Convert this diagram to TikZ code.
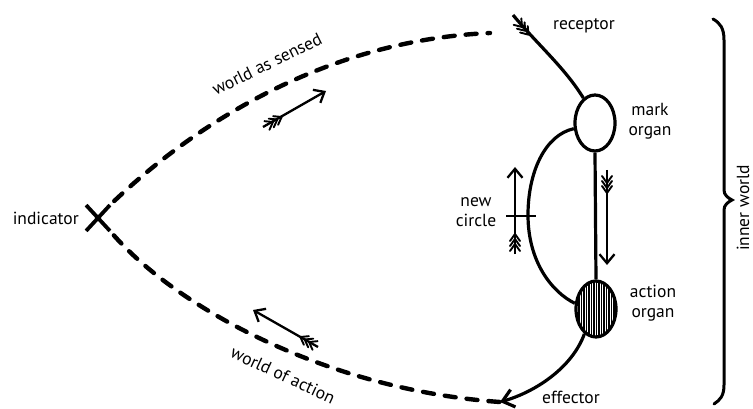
\documentclass[tikz,border=0pt]{standalone}
\usepackage{fontspec}
\setmainfont{PT Sans}
\usetikzlibrary{arrows.meta,shapes.geometric,shapes.misc}
\begin{document}
\begin{tikzpicture}[x=1pt,y=-1pt,
  organ/.style={ellipse,draw,line width=3.2pt,minimum width=40pt,minimum height=56pt,inner sep=0pt},
  lbl/.style={font=\fontsize{17.5}{19.5}\selectfont,align=center,inner sep=0pt},
  wire/.style={line width=3.2pt},
  dashw/.style={line width=4.4pt,dash pattern=on 11pt off 11pt,line cap=round},
  shaft/.style={line width=2.3pt,-{Straight Barb[length=9pt,width=15pt,line width=2.3pt]}},
  fletch/.pic={\draw[line width=1.9pt,line cap=round] (0,0) -- (-7,5) (0,0) -- (-7,-5) (5,0) -- (-2,5) (5,0) -- (-2,-5) (10,0) -- (3,5) (10,0) -- (3,-5);}
]
\useasboundingbox (0,0) rectangle (753,409);
% nodes
\node[cross out,draw,line width=3.8pt,minimum width=20pt,minimum height=22pt,inner sep=0pt] (ind) at (98,218) {};
\node[lbl,anchor=east] (indl) at (79,218) {indicator};
\node[organ] (mark) at (595,123) {};
\node[organ,path picture={\foreach \i in {-22,-19.5,...,22} \draw[line width=1.1pt] ([xshift=\i pt]path picture bounding box.north) -- ([xshift=\i pt]path picture bounding box.south);}] (action) at (596,309) {};
\coordinate (rec) at (513,15);
\coordinate (ws) at (490,33);
\coordinate (eff) at (500,402);
% dashed world curves
\draw[dashw,shorten <=6pt] (ind.north east) .. controls (200,120) and (330,40) .. (ws);
\draw[dashw,shorten <=6pt] (ind.south east) .. controls (180,310) and (330,390) .. (eff);
% receptor
\draw[wire] (rec) .. controls (538,45) and (565,68) .. (mark.115);
\pic[rotate=-50] at (522,27) {fletch};
% mark -> action
\draw[wire] (mark.south) -- (action.north);
\coordinate (va1) at (607,170);
\coordinate (va2) at (607,265);
\draw[shaft] (va1) -- (va2);
\pic[rotate=-90] at (607,183) {fletch};
% new circle
\draw[wire] (mark.195) .. controls (545,135) and (528,172) .. (528,215) .. controls (528,262) and (552,292) .. (action.165);
\coordinate (cb1) at (506,216);
\coordinate (cb2) at (536,216);
\draw[line width=2pt] (cb1) -- (cb2);
\coordinate (nc1) at (515,254);
\coordinate (nc2) at (515,167);
\draw[shaft] (nc1) -- (nc2);
\pic[rotate=90] at (515,244) {fletch};
% effector
\draw[wire,-{Straight Barb[length=11pt,width=18pt,line width=3.2pt]}] (action.245) .. controls (572,368) and (535,392) .. (eff);
% world arrows
\coordinate (wa1) at (263,127);
\coordinate (wa2) at (326,91);
\draw[shaft] (wa1) -- (wa2);
\pic[rotate=30] at (273,122) {fletch};
\coordinate (wb1) at (318,347);
\coordinate (wb2) at (253,310);
\draw[shaft] (wb1) -- (wb2);
\pic[rotate=150] at (309,342) {fletch};
% brace
\draw[line width=3pt,line cap=round] (713,19) .. controls (720,23) and (724,28) .. (724,40) -- (724,190) .. controls (724,195) and (728,198) .. (732,200) .. controls (728,202) and (724,205) .. (724,210) -- (724,385) .. controls (724,396) and (720,400) .. (714,404);
% labels
\node[lbl] (recl) at (584,26) {receptor};
\node[lbl] (markl) at (650,121) {mark\\organ};
\node[lbl] (actl) at (653,303) {action\\organ};
\node[lbl] (ncl) at (476,212) {new\\circle};
\node[lbl,anchor=base] (effl) at (571,403) {effector};
\node[lbl,rotate=26] (wsl) at (267,64) {world as sensed};
\node[lbl,rotate=-25] (wal) at (283,375) {world of action};
\node[lbl,rotate=90] (iwl) at (743,208) {inner world};
\end{tikzpicture}
\end{document}
